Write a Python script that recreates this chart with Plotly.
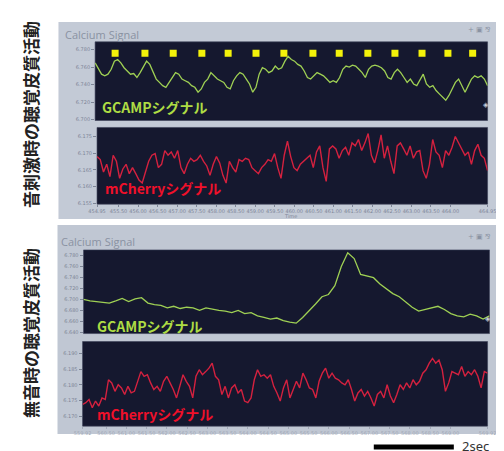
import numpy as np
import plotly.graph_objects as go

# ---------------- data ----------------
stim_times = [455.46, 456.22, 456.94, 457.67, 458.34, 459.05, 459.76,
              460.50, 461.17, 461.90, 462.59, 463.28, 463.94, 464.57]
stim_level = 6.776

gcamp_stim = [6.7650, 6.7576, 6.7520, 6.7501, 6.7520, 6.7576, 6.7669, 6.7688, 6.7650, 6.7594,
              6.7557, 6.7520, 6.7527, 6.7482, 6.7538, 6.7613, 6.7669, 6.7632, 6.7538, 6.7464,
              6.7426, 6.7389, 6.7370, 6.7426, 6.7475, 6.7538, 6.7520, 6.7464, 6.7445, 6.7426,
              6.7389, 6.7370, 6.7314, 6.7351, 6.7426, 6.7464, 6.7538, 6.7501, 6.7464, 6.7445,
              6.7426, 6.7370, 6.7351, 6.7445, 6.7501, 6.7538, 6.7520, 6.7464, 6.7408, 6.7314,
              6.7370, 6.7520, 6.7594, 6.7576, 6.7538, 6.7557, 6.7613, 6.7576, 6.7594, 6.7669,
              6.7725, 6.7688, 6.7669, 6.7632, 6.7613, 6.7557, 6.7482, 6.7464, 6.7501, 6.7538,
              6.7520, 6.7501, 6.7464, 6.7426, 6.7445, 6.7426, 6.7482, 6.7576, 6.7613, 6.7602,
              6.7624, 6.7613, 6.7576, 6.7538, 6.7482, 6.7576, 6.7613, 6.7624, 6.7613, 6.7594,
              6.7557, 6.7482, 6.7464, 6.7538, 6.7576, 6.7538, 6.7482, 6.7426, 6.7464, 6.7408,
              6.7389, 6.7464, 6.7520, 6.7408, 6.7370, 6.7389, 6.7333, 6.7295, 6.7258, 6.7221,
              6.7277, 6.7351, 6.7426, 6.7464, 6.7389, 6.7314, 6.7389, 6.7464, 6.7501, 6.7482,
              6.7501, 6.7464, 6.7389]

mcherry_stim = [6.1690, 6.1681, 6.1644, 6.1667, 6.1630, 6.1694, 6.1676, 6.1625, 6.1653, 6.1667,
                6.1639, 6.1657, 6.1639, 6.1620, 6.1611, 6.1644, 6.1676, 6.1694, 6.1699, 6.1657,
                6.1667, 6.1708, 6.1694, 6.1704, 6.1685, 6.1708, 6.1657, 6.1639, 6.1667, 6.1685,
                6.1676, 6.1681, 6.1694, 6.1676, 6.1662, 6.1634, 6.1667, 6.1690, 6.1671, 6.1634,
                6.1611, 6.1676, 6.1657, 6.1644, 6.1681, 6.1676, 6.1685, 6.1681, 6.1657, 6.1648,
                6.1639, 6.1657, 6.1667, 6.1681, 6.1676, 6.1699, 6.1657, 6.1625, 6.1694, 6.1736,
                6.1690, 6.1657, 6.1648, 6.1667, 6.1676, 6.1685, 6.1694, 6.1657, 6.1704, 6.1722,
                6.1657, 6.1616, 6.1713, 6.1722, 6.1713, 6.1685, 6.1708, 6.1718, 6.1694, 6.1731,
                6.1722, 6.1741, 6.1708, 6.1731, 6.1759, 6.1694, 6.1671, 6.1708, 6.1755, 6.1685,
                6.1722, 6.1676, 6.1639, 6.1722, 6.1731, 6.1713, 6.1694, 6.1722, 6.1685, 6.1704,
                6.1708, 6.1648, 6.1625, 6.1667, 6.1741, 6.1704, 6.1694, 6.1657, 6.1708, 6.1694,
                6.1718, 6.1750, 6.1731, 6.1713, 6.1694, 6.1704, 6.1667, 6.1708, 6.1727, 6.1694,
                6.1685, 6.1648]

gcamp_silent = [6.7000, 6.6971, 6.6959, 6.6948, 6.6930, 6.6971, 6.7017, 6.6959, 6.7006, 6.7029,
                6.6930, 6.6901, 6.6890, 6.6843, 6.6872, 6.6832, 6.6855, 6.6843, 6.6797, 6.6843,
                6.6814, 6.6797, 6.6785, 6.6756, 6.6797, 6.6739, 6.6756, 6.6698, 6.6669, 6.6640,
                6.6658, 6.6611, 6.6582, 6.6565, 6.6669, 6.6785, 6.6913, 6.7046, 6.7087, 6.7249,
                6.7597, 6.7847, 6.7742, 6.7452, 6.7423, 6.7394, 6.7278, 6.7191, 6.7104, 6.7046,
                6.6959, 6.6855, 6.6785, 6.6814, 6.6832, 6.6872, 6.6814, 6.6739, 6.6698, 6.6681,
                6.6727, 6.6698, 6.6640, 6.6698]

mcherry_silent = [6.1737, 6.1743, 6.1753, 6.1727, 6.1748, 6.1732, 6.1758, 6.1753, 6.1816, 6.1806,
                  6.1779, 6.1800, 6.1790, 6.1769, 6.1795, 6.1774, 6.1779, 6.1811, 6.1842, 6.1827,
                  6.1832, 6.1806, 6.1785, 6.1795, 6.1779, 6.1811, 6.1827, 6.1806, 6.1785, 6.1758,
                  6.1795, 6.1832, 6.1811, 6.1795, 6.1758, 6.1827, 6.1848, 6.1832, 6.1842, 6.1853,
                  6.1869, 6.1827, 6.1816, 6.1769, 6.1795, 6.1758, 6.1790, 6.1800, 6.1774, 6.1785,
                  6.1748, 6.1743, 6.1758, 6.1816, 6.1848, 6.1827, 6.1832, 6.1821, 6.1832, 6.1795,
                  6.1774, 6.1748, 6.1790, 6.1816, 6.1758, 6.1785, 6.1811, 6.1790, 6.1837, 6.1816,
                  6.1790, 6.1785, 6.1758, 6.1811, 6.1837, 6.1853, 6.1821, 6.1837, 6.1821, 6.1816,
                  6.1806, 6.1800, 6.1816, 6.1785, 6.1748, 6.1774, 6.1785, 6.1764, 6.1779, 6.1758,
                  6.1732, 6.1769, 6.1779, 6.1758, 6.1800, 6.1764, 6.1743, 6.1769, 6.1800, 6.1785,
                  6.1806, 6.1790, 6.1816, 6.1800, 6.1811, 6.1837, 6.1848, 6.1869, 6.1884, 6.1869,
                  6.1879, 6.1848, 6.1779, 6.1806, 6.1842, 6.1837, 6.1832, 6.1858, 6.1827, 6.1842,
                  6.1832, 6.1848, 6.1827, 6.1790, 6.1842, 6.1837]

stim_window = [454.95, 464.95]
silent_window = [559.92, 569.92]

stim_ticks = [454.95, 455.50, 456.00, 456.50, 457.00, 457.50, 458.00, 458.50, 459.00, 459.50,
              460.00, 460.50, 461.00, 461.50, 462.00, 462.50, 463.00, 463.50, 464.00, 464.95]
silent_ticks = [559.92, 560.50, 561.00, 561.50, 562.00, 562.50, 563.00, 563.50, 564.00, 564.50,
                565.00, 565.50, 566.00, 566.50, 567.00, 567.50, 568.00, 568.50, 569.00, 569.92]

gcamp_stim_ticks = [6.700, 6.720, 6.740, 6.760, 6.780]
mcherry_stim_ticks = [6.155, 6.160, 6.165, 6.170, 6.175]
gcamp_silent_ticks = [6.640, 6.660, 6.680, 6.700, 6.720, 6.740, 6.760, 6.780]
mcherry_silent_ticks = [6.170, 6.175, 6.180, 6.185, 6.190]

# ---------------- figure ----------------
W, H = 504, 451
def px(x):
    return x / W
def py(y):
    return 1 - y / H

GREEN = "#9fd054"
RED = "#d4213f"
TICK = "#7d8596"
PLOTBG = "#15182f"

t_gs = np.linspace(stim_window[0], stim_window[1], len(gcamp_stim))
t_ms = np.linspace(stim_window[0], stim_window[1], len(mcherry_stim))
t_gq = np.linspace(silent_window[0], silent_window[1], len(gcamp_silent))
t_mq = np.linspace(silent_window[0], silent_window[1], len(mcherry_silent))

fig = go.Figure()
fig.add_trace(go.Scatter(x=t_gs, y=gcamp_stim, mode="lines", line=dict(color=GREEN, width=1.3),
                         xaxis="x", yaxis="y", showlegend=False))
fig.add_trace(go.Scatter(x=stim_times, y=[stim_level] * len(stim_times), mode="markers",
                         marker=dict(symbol="square", size=7, color="#f4f20a"),
                         xaxis="x", yaxis="y", showlegend=False))
fig.add_trace(go.Scatter(x=t_ms, y=mcherry_stim, mode="lines", line=dict(color=RED, width=1.4),
                         xaxis="x2", yaxis="y2", showlegend=False))
fig.add_trace(go.Scatter(x=t_gq, y=gcamp_silent, mode="lines", line=dict(color=GREEN, width=1.3),
                         xaxis="x3", yaxis="y3", showlegend=False))
fig.add_trace(go.Scatter(x=t_mq, y=mcherry_silent, mode="lines", line=dict(color=RED, width=1.4),
                         xaxis="x4", yaxis="y4", showlegend=False))

tickfont = dict(family="DejaVu Sans", size=5, color=TICK)

def yax(dom_y, rng, ticks, anchor):
    return dict(domain=[py(dom_y[1]), py(dom_y[0])], range=rng, tickvals=ticks,
                ticktext=[f"{v:.3f}" for v in ticks], tickfont=tickfont,
                ticks="outside", ticklen=3, tickcolor=TICK, showgrid=False, zeroline=False,
                showline=False, anchor=anchor, fixedrange=True)

def xax(dom_x, rng, anchor, ticks=None, color=TICK):
    d = dict(domain=[px(dom_x[0]), px(dom_x[1])], range=rng, showgrid=False, zeroline=False,
             showline=False, anchor=anchor)
    if ticks is None:
        d.update(showticklabels=False, ticks="")
    else:
        d.update(tickvals=ticks, ticktext=[f"{v:.2f}" for v in ticks],
                 tickfont=dict(family="DejaVu Sans", size=5, color=color),
                 ticks="outside", ticklen=2, tickcolor=color, tickangle=0)
    return d

fig.update_layout(
    width=W, height=H, margin=dict(l=0, r=0, t=0, b=0),
    paper_bgcolor="white", plot_bgcolor=PLOTBG,
    xaxis=xax((81, 488), stim_window, "y"),
    yaxis=yax((34, 113), [6.699, 6.789], gcamp_stim_ticks, "x"),
    xaxis2=xax((83, 488), stim_window, "y2", stim_ticks),
    yaxis2=yax((120, 197), [6.1548, 6.1777], mcherry_stim_ticks, "x2"),
    xaxis3=xax((69, 490), silent_window, "y3"),
    yaxis3=yax((243, 327), [6.6375, 6.790], gcamp_silent_ticks, "x3"),
    xaxis4=xax((68, 488), silent_window, "y4", silent_ticks, color="#a2a9b7"),
    yaxis4=yax((335, 420), [6.1668, 6.1938], mcherry_silent_ticks, "x4"),
)

# panel backgrounds (screen frames), then dark plot areas on top of them
shapes = [
    dict(type="rect", xref="paper", yref="paper", x0=px(43), x1=px(497), y0=py(212), y1=py(14),
         fillcolor="#c3cad6", line=dict(width=0), layer="below"),
    dict(type="rect", xref="paper", yref="paper", x0=px(42), x1=px(497), y0=py(428), y1=py(218),
         fillcolor="#c0c7d3", line=dict(width=0), layer="below"),
]
for ax in ["", "2", "3", "4"]:
    shapes.append(dict(type="rect", xref=f"x{ax} domain", yref=f"y{ax} domain",
                       x0=0, x1=1, y0=0, y1=1, fillcolor=PLOTBG,
                       line=dict(width=0.6, color="#3a3f58"), layer="below"))
# scale bar (2 sec)
shapes.append(dict(type="line", xref="paper", yref="paper", x0=px(370), x1=px(453),
                   y0=py(441), y1=py(441), line=dict(color="black", width=5)))
fig.update_layout(shapes=shapes)

ann = []
def text(x, y, s, size, color, bold=False, xanchor="left", angle=0, family="Noto Sans CJK JP"):
    ann.append(dict(xref="paper", yref="paper", x=px(x), y=py(y), text=f"<b>{s}</b>" if bold else s,
                    showarrow=False, xanchor=xanchor, yanchor="middle", textangle=angle,
                    font=dict(size=size, color=color, family=family)))

text(48, 27, "Calcium Signal", 11, "#8a92a2", family="Open Sans")
text(44, 235, "Calcium Signal", 11, "#8a92a2", family="Open Sans")
text(466, 22, "+ ▣ ⅋", 7, "#8a92a2", family="DejaVu Sans")
text(466, 230, "+ ▣ ⅋", 7, "#8a92a2", family="DejaVu Sans")
text(486, 97, "◈", 7, "#c8ccd8", family="DejaVu Sans", xanchor="center")
text(488, 312, "◈", 7, "#c8ccd8", family="DejaVu Sans", xanchor="center")
text(86, 99, "GCAMPシグナル", 14, "#aedc44", bold=True)
text(81, 319, "GCAMPシグナル", 14, "#aedc44", bold=True)
text(89, 181, "mCherryシグナル", 14, "#f0102a", bold=True)
text(81, 408, "mCherryシグナル", 14, "#f0102a", bold=True)
text(284, 209, "Time", 5, TICK, xanchor="center", family="DejaVu Sans")
text(14, 107, "音刺激時の聴覚皮質活動", 17, "#222222", bold=True, xanchor="center", angle=-90)
text(14, 327, "無音時の聴覚皮質活動", 17, "#222222", bold=True, xanchor="center", angle=-90)
text(459, 440, "2sec", 13, "#333333", family="Noto Sans", xanchor="left")
fig.update_layout(annotations=ann)

fig.write_html("out.html")
